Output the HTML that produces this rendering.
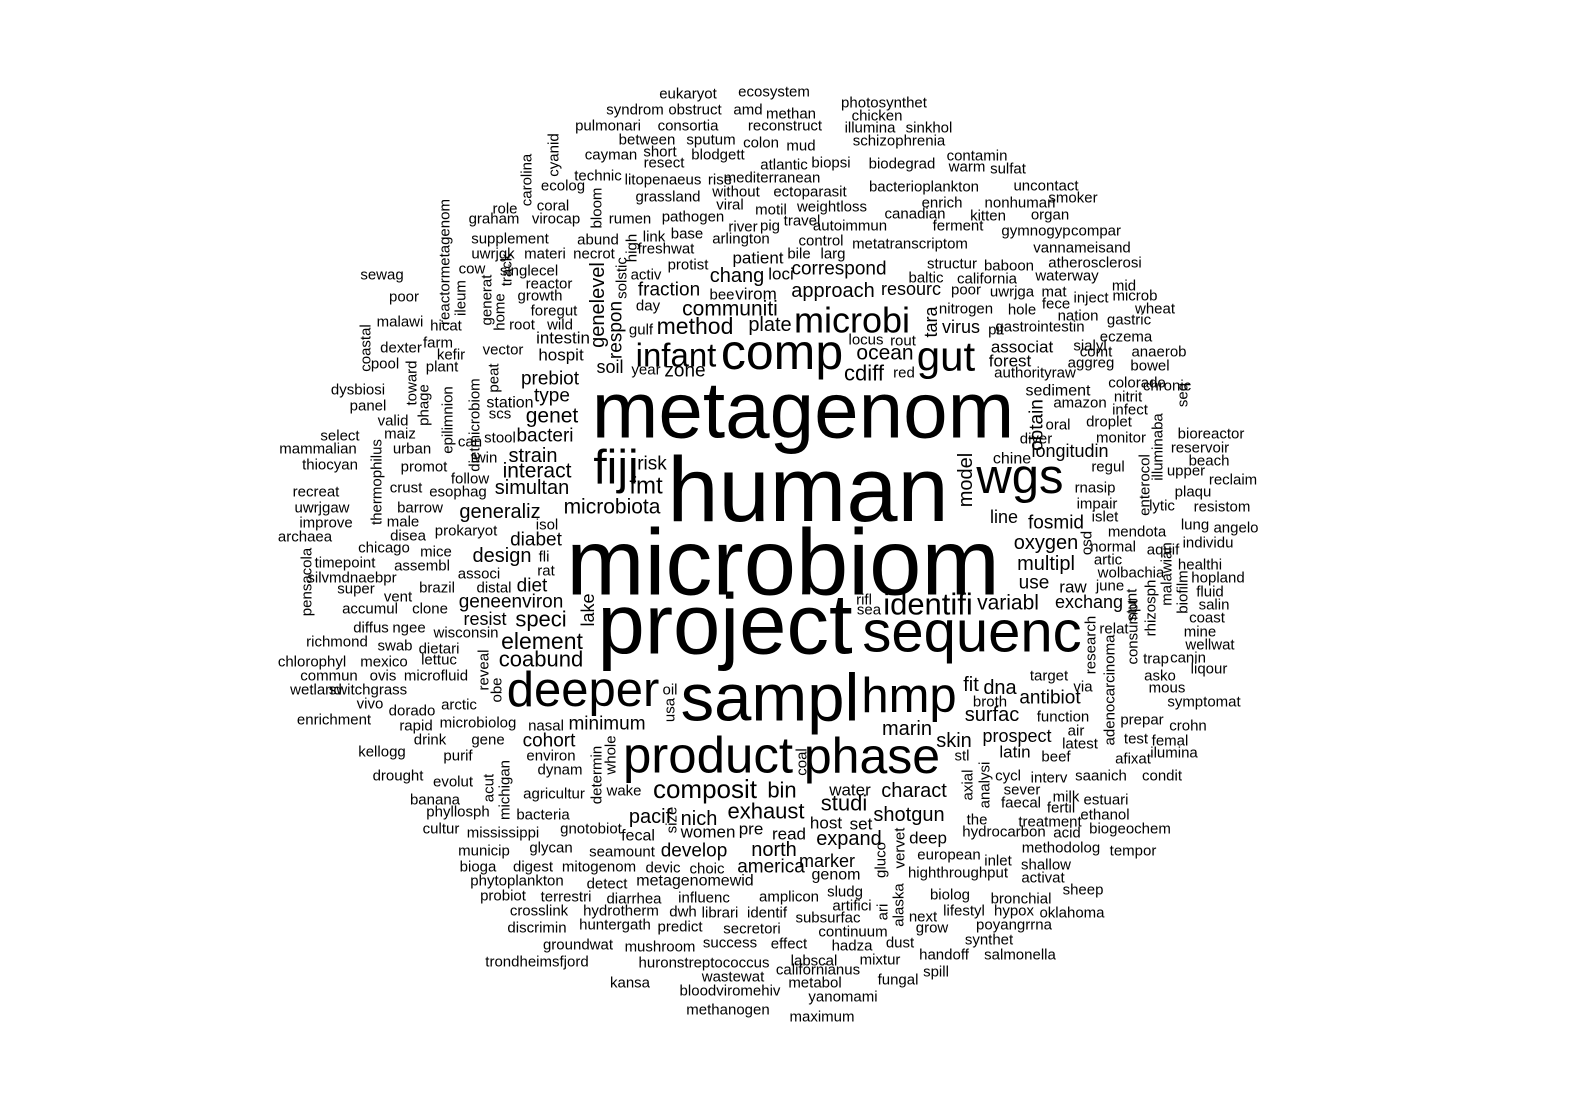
<!DOCTYPE html>
<html>
<head>
<meta charset="utf-8">
<style>
html,body{margin:0;padding:0;background:#fff;}
svg{display:block;}
text{font-family:"Liberation Sans",Arial,sans-serif;fill:#000;}
</style>
</head>
<body>
<svg id="cloud" width="1572" height="1119" viewBox="0 0 1572 1119" xmlns="http://www.w3.org/2000/svg">
<rect width="1572" height="1119" fill="#fff"/>
</svg>
<script>
// [word, centerX, centerY, rotated]
const words = [
["metagenom",803,410,0],["human",808,490,0],["microbiom",783,562,0],["project",725,625,0],
["sampl",770,698,0],["sequenc",972,632,0],["deeper",583,690,0],["product",708,755,0],
["phase",872,756,0],["hmp",909,696,0],["comp",782,352,0],["gut",946,356,0],["fiji",616,468,0],
["wgs",1020,477,0],["microbi",852,320,0],["infant",676,355,0],["composit",705,789,0],
["identifi",928,604,0],["microbiota",612,507,0],
["element",542,641,0],["coabund",541,659,0],["speci",541,619,0],["resist",485,619,0],
["communiti",730,309,0],["method",695,326,0],["plate",770,325,0],["approach",833,291,0],
["correspond",839,269,0],["ocean",885,353,0],["cdiff",864,373,0],["soil",610,367,0],
["prebiot",550,379,0],["genet",552,416,0],["strain",533,456,0],["interact",537,471,0],
["simultan",532,488,0],["generaliz",500,512,0],["diabet",536,540,0],["design",502,556,0],
["fraction",669,290,0],["exhaust",766,811,0],["shotgun",909,815,0],["charact",914,791,0],
["bin",782,790,0],["studi",844,803,0],["expand",849,839,0],["pacif",650,817,0],["nich",699,819,0],
["north",774,850,0],["develop",694,851,0],["marin",907,729,0],["surfac",992,715,0],
["oxygen",1046,543,0],["multipl",1046,564,0],["fosmid",1056,523,0],["variabl",1008,603,0],
["longitudin",1070,451,0],["minimum",607,724,0],["skin",954,741,0],["cohort",549,741,0],
["fmt",646,486,0],["risk",652,464,0],["zone",685,371,0],["virus",961,327,0],["line",1004,517,0],
["chang",737,276,0],["fit",971,685,0],["dna",1000,688,0],["antibiot",1050,698,0],
["prospect",1017,736,0],["exchang",1089,602,0],["use",1034,583,0],["america",771,867,0],
["resourc",911,289,0],["geneenviron",511,602,0],["diet",532,586,0],["bacteri",545,436,0],
["type",552,396,0],["intestin",563,338,0],["hospit",561,355,0],["associat",1022,347,0],
["forest",1010,361,0],["latin",1015,752,0],["raw",1073,587,0],["metagenomewid",695,881,0],
["marker",827,861,0],["loci",781,274,0],["virom",756,294,0],["patient",758,258,0],
["eukaryot",688,94,0],["ecosystem",774,92,0],["photosynthet",884,103,0],["syndrom",635,110,0],
["obstruct",695,110,0],["amd",748,110,0],["methan",791,114,0],["chicken",877,116,0],
["pulmonari",608,126,0],["consortia",688,126,0],["reconstruct",785,126,0],["illumina",870,128,0],
["sinkhol",929,128,0],["between",647,140,0],["sputum",711,140,0],["colon",761,143,0],
["mud",801,146,0],["schizophrenia",899,141,0],["cayman",611,155,0],["short",660,152,0],
["blodgett",718,155,0],["contamin",977,156,0],["resect",664,163,0],["atlantic",784,165,0],
["biopsi",831,163,0],["biodegrad",902,164,0],["warm",967,167,0],["sulfat",1008,169,0],
["technic",598,176,0],["litopenaeus",663,180,0],["rise",720,180,0],["mediterranean",772,178,0],
["uncontact",1046,186,0],["ecolog",563,186,0],["without",736,192,0],["ectoparasit",810,192,0],
["bacterioplankton",924,187,0],["grassland",668,197,0],["viral",730,205,0],["smoker",1073,198,0],
["coral",553,206,0],["role",505,209,0],["graham",494,219,0],["virocap",556,219,0],["rumen",630,219,0],
["pathogen",693,217,0],["motil",771,210,0],["weightloss",832,207,0],["enrich",942,203,0],
["nonhuman",1020,203,0],["travel",802,221,0],["canadian",915,214,0],["kitten",988,216,0],
["organ",1050,215,0],["river",743,227,0],["pig",770,226,0],["autoimmun",850,226,0],
["ferment",958,226,0],["gymnogyp",1036,231,0],["link",654,237,0],["base",687,234,0],
["arlington",741,239,0],["supplement",510,239,0],["abund",598,240,0],["compar",1096,231,0],
["freshwat",666,249,0],["control",821,241,0],["metatranscriptom",910,244,0],["vannameisand",1082,248,0],
["uwrjgk",493,254,0],["materi",545,254,0],["necrot",594,254,0],["bile",799,254,0],["larg",833,254,0],
["atherosclerosi",1095,263,0],["structur",952,264,0],["baboon",1009,266,0],["protist",688,265,0],
["california",987,279,0],["waterway",1067,276,0],["sewag",382,275,0],["singlecel",529,271,0],
["cow",472,269,0],["activ",646,275,0],["baltic",926,278,0],["reactor",549,284,0],["bee",722,295,0],
["poor",966,290,0],["uwrjga",1012,292,0],["mat",1054,292,0],["inject",1091,298,0],["mid",1124,286,0],
["poor",404,297,0],["growth",540,296,0],["day",648,306,0],["microb",1135,296,0],["fece",1056,304,0],
["foregut",554,311,0],["wheat",1155,309,0],["nitrogen",966,309,0],["hole",1022,310,0],
["nation",1078,316,0],["malawi",400,322,0],["hicat",446,326,0],["wild",560,325,0],["root",522,325,0],
["gulf",641,330,0],["gastric",1129,320,0],["pit",996,330,0],["gastrointestin",1040,327,0],
["locus",866,340,0],["rout",903,341,0],["eczema",1126,337,0],["dexter",401,348,0],["farm",438,343,0],
["vector",503,350,0],["kefir",451,355,0],["sialyl",1090,346,0],["comt",1096,352,0],["anaerob",1159,352,0],
["pool",385,364,0],["plant",442,367,0],["aggreg",1091,363,0],["year",646,370,0],["red",904,373,0],
["authorityraw",1035,373,0],["bowel",1150,366,0],["colorado",1137,383,0],["chronic",1167,386,0],
["sediment",1058,391,0],["dysbiosi",358,390,0],["amazon",1080,403,0],["infect",1130,410,0],
["panel",368,406,0],["station",510,403,0],["nitrit",1128,397,0],["scs",500,414,0],["droplet",1109,422,0],
["oral",1058,425,0],["valid",393,421,0],["diver",1036,439,0],["monitor",1121,438,0],
["bioreactor",1211,434,0],["select",340,436,0],["maiz",400,434,0],["urban",412,449,0],["stool",500,438,0],
["can",470,442,0],["mammalian",318,449,0],["thiocyan",330,465,0],["promot",424,467,0],["twin",484,458,0],
["reservoir",1200,448,0],["regul",1108,467,0],["beach",1209,461,0],["chine",1012,459,0],
["follow",470,479,0],["rnasip",1095,488,0],["upper",1186,471,0],["reclaim",1233,480,0],
["recreat",316,492,0],["crust",406,488,0],["esophag",458,492,0],["plaqu",1193,492,0],
["uwrjgaw",322,508,0],["barrow",420,508,0],["impair",1097,504,0],["resistom",1222,507,0],
["improve",326,523,0],["male",403,522,0],["prokaryot",466,531,0],["isol",547,525,0],["islet",1105,517,0],
["lytic",1162,506,0],["lung",1195,525,0],["angelo",1236,528,0],["archaea",305,537,0],["disea",408,536,0],
["mendota",1137,532,0],["normal",1113,547,0],["chicago",384,548,0],["mice",436,552,0],["aquif",1163,550,0],
["individu",1208,543,0],["healthi",1200,565,0],["fli",544,557,0],["timepoint",345,563,0],
["assembl",422,566,0],["artic",1108,560,0],["hopland",1218,578,0],["silvmdnaebpr",352,578,0],
["rat",546,571,0],["associ",479,574,0],["wolbachia",1131,573,0],["super",356,589,0],["brazil",437,588,0],
["distal",494,588,0],["june",1110,586,0],["fluid",1210,592,0],["accumul",370,609,0],["vent",398,597,0],
["rifl",864,600,0],["salin",1214,605,0],["clone",430,609,0],["sea",869,610,0],["coast",1207,618,0],
["diffus",371,628,0],["ngee",409,628,0],["wisconsin",466,633,0],["relat",1114,629,0],["mine",1200,632,0],
["swab",395,646,0],["dietari",439,649,0],["richmond",337,642,0],["wellwat",1210,645,0],
["chlorophyl",312,662,0],["mexico",384,662,0],["lettuc",439,660,0],["canin",1188,658,0],["trap",1156,659,0],
["liqour",1209,669,0],["commun",329,676,0],["ovis",383,676,0],["microfluid",436,676,0],
["switchgrass",368,690,0],["target",1049,676,0],["mous",1167,688,0],["asko",1160,676,0],
["wetland",316,690,0],["arctic",459,705,0],["oil",670,690,0],["via",1083,687,0],["broth",990,702,0],
["symptomat",1204,702,0],["vivo",370,704,0],["dorado",412,711,0],["function",1063,717,0],
["prepar",1142,720,0],["crohn",1188,726,0],["enrichment",334,720,0],["microbiolog",478,723,0],
["air",1076,731,0],["rapid",416,726,0],["nasal",546,726,0],["latest",1080,744,0],["test",1136,739,0],
["femal",1170,741,0],["drink",430,740,0],["gene",488,740,0],["ilumina",1174,753,0],["kellogg",382,752,0],
["purif",458,756,0],["environ",551,756,0],["beef",1056,757,0],["afixat",1133,759,0],["stl",962,756,0],
["dynam",560,770,0],["drought",398,776,0],["evolut",453,782,0],["cycl",1008,776,0],["interv",1049,778,0],
["condit",1162,776,0],["saanich",1101,776,0],["agricultur",554,794,0],["wake",624,791,0],
["sever",1022,790,0],["milk",1066,797,0],["estuari",1106,800,0],["banana",435,800,0],["faecal",1021,803,0],
["fertil",1061,808,0],["water",850,790,0],["phyllosph",458,812,0],["bacteria",543,815,0],
["ethanol",1105,815,0],["the",977,820,0],["cultur",441,829,0],["mississippi",503,833,0],
["gnotobiot",591,829,0],["pre",751,829,0],["read",789,834,0],["host",826,823,0],["set",861,824,0],
["hydrocarbon",1004,832,0],["treatment",1050,822,0],["acid",1067,833,0],["biogeochem",1130,829,0],
["fecal",638,836,0],["women",708,832,0],["deep",928,838,0],["municip",484,851,0],["glycan",551,848,0],
["seamount",622,852,0],["european",949,855,0],["methodolog",1061,848,0],["tempor",1133,851,0],
["bioga",478,867,0],["digest",533,867,0],["mitogenom",599,867,0],["devic",663,868,0],["choic",707,869,0],
["inlet",998,861,0],["shallow",1046,865,0],["phytoplankton",517,881,0],["detect",607,884,0],
["genom",836,875,0],["highthroughput",958,873,0],["activat",1043,878,0],["probiot",503,896,0],
["terrestri",566,897,0],["diarrhea",634,899,0],["influenc",704,898,0],["amplicon",789,897,0],
["sludg",845,892,0],["biolog",950,895,0],["bronchial",1021,899,0],["sheep",1083,890,0],
["crosslink",539,911,0],["hydrotherm",621,911,0],["dwh",683,912,0],["librari",720,913,0],
["identif",767,913,0],["subsurfac",828,918,0],["artifici",852,906,0],["next",923,917,0],
["lifestyl",964,911,0],["hypox",1014,911,0],["oklahoma",1072,913,0],["discrimin",537,928,0],
["huntergath",615,925,0],["predict",680,927,0],["secretori",752,929,0],["continuum",853,932,0],
["grow",932,928,0],["poyangrrna",1014,925,0],["groundwat",578,945,0],["mushroom",660,947,0],
["success",730,943,0],["effect",789,944,0],["hadza",852,946,0],["dust",900,943,0],["synthet",989,940,0],
["trondheimsfjord",537,962,0],["huronstreptococcus",704,963,0],["labscal",814,961,0],["mixtur",880,960,0],
["handoff",944,955,0],["salmonella",1020,955,0],["wastewat",733,977,0],["californianus",818,970,0],
["fungal",898,980,0],["spill",936,972,0],["kansa",630,983,0],["bloodviromehiv",730,991,0],
["metabol",815,983,0],["yanomami",843,997,0],["methanogen",728,1010,0],["maximum",822,1017,0],
["reactormetagenom",445,262,1],["coastal",366,348,1],["ileum",461,298,1],["generat",487,300,1],
["home",500,312,1],["track",507,270,1],["carolina",527,180,1],["cyanid",554,155,1],["bloom",597,208,1],
["high",632,248,1],["solstic",622,278,1],["respon",616,330,1],["genelevel",598,305,1],["tara",931,322,1],
["peat",494,378,1],["toward",412,383,1],["phage",424,405,1],["epilimnion",448,420,1],
["dietmicrobiom",475,425,1],["thermophilus",377,482,1],["pensacola",307,582,1],["obtain",1037,425,1],
["model",966,480,1],["enterocol",1145,485,1],["illuminaba",1158,447,1],["seq",1183,395,1],
["osd",1087,543,1],["consumpt",1133,632,1],["stunt",1132,605,1],["rhizosph",1151,608,1],
["malawian",1167,574,1],["biofilm",1183,592,1],["research",1091,645,1],["adenocarcinoma",1110,690,1],
["lake",588,610,1],["reveal",484,670,1],["obe",497,690,1],["usa",670,710,1],["determin",597,775,1],
["whole",611,755,1],["acut",489,788,1],["michigan",505,790,1],["coal",802,762,1],["analysi",985,785,1],
["axial",968,785,1],["size",672,820,1],["gluco",881,860,1],["vervet",900,848,1],["alaska",899,905,1],
["ari",883,912,1]
];
// font sizes (px) for words; default 15
const sizes = {
"metagenom":80,"human":92,"microbiom":94,"project":85,"sampl":67,"sequenc":58,"deeper":49,
"product":51,"phase":50,"hmp":49,"comp":50,"gut":42,"fiji":48,"wgs":49,"microbi":36,"infant":33,
"composit":26,"identifi":31,"microbiota":21,
"element":23,"coabund":22,"speci":22,"resist":18,"communiti":21,"method":23,"plate":20,
"approach":20,"correspond":19,"ocean":21,"cdiff":22,"soil":18,"prebiot":19,"genet":21,"strain":20,
"interact":21,"simultan":20,"generaliz":20,"diabet":19,"design":20,"fraction":19,"exhaust":22,
"shotgun":20,"charact":20,"bin":22,"studi":22,"expand":20,"pacif":20,"nich":20,"north":20,
"develop":19,"marin":20,"surfac":20,"oxygen":20,"multipl":20,"fosmid":19,"variabl":21,
"longitudin":18,"minimum":19,"skin":20,"cohort":19,"fmt":24,"risk":19,"zone":19,"virus":18,
"line":18,"chang":20,"fit":20,"dna":20,"antibiot":19,"prospect":18,"exchang":18,"use":19,
"america":19,"resourc":18,"geneenviron":19,"diet":19,"bacteri":19,"type":19,"model":20,
"metagenomewid":16,"marker":18,"genelevel":20,"respon":19,"tara":18,"obtain":19,"lake":18,
"chine":16,"station":16,"sediment":16,"associat":17,"forest":17,"latin":17,"raw":17,"loci":17,
"virom":17,"patient":17,"intestin":17,"hospit":17,"water":17,"host":17,"set":17,"read":17,"pre":17,
"fecal":16,"women":17,"deep":17,"genom":16
};
const svg = document.getElementById('cloud');
const NS = 'http://www.w3.org/2000/svg';
words.forEach(function(w){
  const t = document.createElementNS(NS,'text');
  const size = sizes[w[0]] || 15;
  t.setAttribute('x', w[1]);
  t.setAttribute('y', w[2]);
  t.setAttribute('font-size', size);
  t.setAttribute('text-anchor','middle');
  t.setAttribute('dominant-baseline','central');
  if (w[3]) t.setAttribute('transform','rotate(-90 '+w[1]+' '+w[2]+')');
  t.textContent = w[0];
  
  
  svg.appendChild(t);
});
</script>
</body>
</html>
